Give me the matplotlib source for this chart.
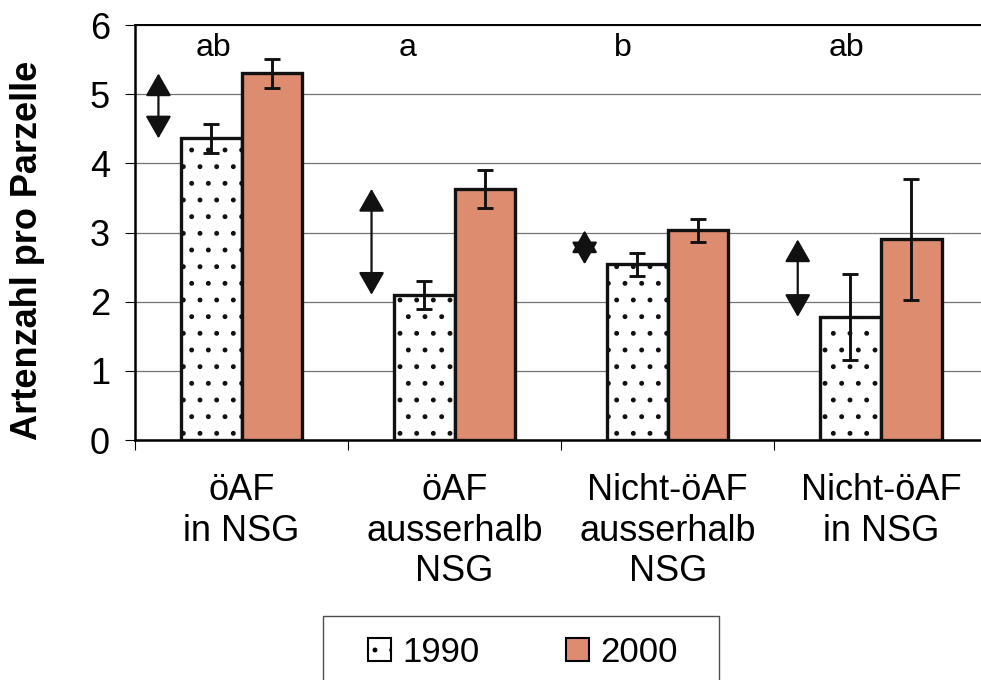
import matplotlib
matplotlib.use("Agg")
import matplotlib.pyplot as plt
import numpy as np
from matplotlib.patches import FancyArrowPatch, Rectangle, Patch

plt.rcParams['font.family'] = ['Liberation Sans', 'DejaVu Sans']
plt.rcParams['hatch.linewidth'] = 1.1
plt.rcParams['hatch.color'] = 'black'

# data
categories = ["öAF\nin NSG", "öAF\nausserhalb\nNSG", "Nicht-öAF\nausserhalb\nNSG", "Nicht-öAF\nin NSG"]
years = ["1990", "2000"]
mean_1990 = [4.36, 2.10, 2.54, 1.78]
mean_2000 = [5.30, 3.63, 3.03, 2.90]
err_1990 = [0.21, 0.20, 0.17, 0.62]
err_2000 = [0.21, 0.28, 0.17, 0.87]
letters = ["ab", "a", "b", "ab"]
letter_x = [-0.13, 0.78, 1.79, 2.84]
letter_y = 5.67

salmon = '#DD8C6F'
width = 0.285
x = np.arange(len(categories))

fig = plt.figure(figsize=(9.81, 6.8), dpi=100)
ax = fig.add_axes([135 / 981, 1 - 440 / 680, 1 - 135 / 981, (440 - 25) / 680])

ax.bar(x - width / 2, mean_1990, width, color='white', edgecolor='#111111',
       linewidth=2.4, hatch='.', zorder=3)
ax.bar(x + width / 2, mean_2000, width, color=salmon, edgecolor='#111111',
       linewidth=2.4, zorder=3)
ax.errorbar(x - width / 2, mean_1990, yerr=err_1990, fmt='none', ecolor='#111111',
            elinewidth=2.1, capsize=6, capthick=2.1, zorder=4)
ax.errorbar(x + width / 2, mean_2000, yerr=err_2000, fmt='none', ecolor='#111111',
            elinewidth=2.1, capsize=6, capthick=2.1, zorder=4)

# double arrows showing the change between the years
for i in range(len(categories)):
    arr = FancyArrowPatch((x[i] - 0.39, mean_1990[i]), (x[i] - 0.39, mean_2000[i]),
                          arrowstyle='<|-|>,head_length=14,head_width=8',
                          mutation_scale=1, shrinkA=0, shrinkB=0,
                          color='#111111', linewidth=1.6, zorder=5)
    ax.add_patch(arr)

for lx, t in zip(letter_x, letters):
    ax.text(lx, letter_y, t, fontsize=23, ha='center', va='center')

ax.set_ylim(0, 6)
ax.set_xlim(-0.5, 3.47)
ax.set_yticks(range(7))
ax.tick_params(axis='y', labelsize=26, length=7, width=0.8, pad=11)
ax.set_xticks(x)
ax.set_xticklabels(categories, fontsize=26, linespacing=1.2)
ax.tick_params(axis='x', length=0, pad=24)
ax.set_xticks(np.arange(-0.5, 3.5, 1.0), minor=True)
ax.tick_params(axis='x', which='minor', length=7, width=0.8)

ax.yaxis.grid(True, color='0.45', linewidth=0.9, zorder=0)
ax.set_axisbelow(True)
for s in ['left', 'bottom']:
    ax.spines[s].set_linewidth(1.8)
ax.spines['top'].set_linewidth(1.4)
ax.spines['right'].set_visible(False)

ax.set_ylabel("Artenzahl pro Parzelle", fontsize=26, fontweight='bold')
ax.yaxis.set_label_coords(-0.106, 0.458)

# legend below the chart
handles = [Patch(facecolor='white', edgecolor='black', hatch='.', linewidth=1.5),
           Patch(facecolor=salmon, edgecolor='black', linewidth=1.5)]
fig.legend(handles, years, ncol=2, frameon=False, fontsize=25,
           loc='center', bbox_to_anchor=(523 / 981, 1 - 652 / 680),
           handlelength=0.66, handleheight=0.66, handletextpad=0.32,
           columnspacing=2.5)
fig.patches.append(Rectangle((323 / 981, -0.02), (719 - 323) / 981, 0.02 + 1 - 616 / 680,
                             transform=fig.transFigure, facecolor='none',
                             edgecolor='0.3', linewidth=1.0))

fig.savefig("out.png", dpi=100)
